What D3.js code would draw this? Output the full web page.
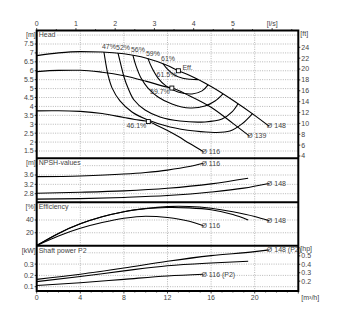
<!DOCTYPE html>
<html><head><meta charset="utf-8">
<script src="https://cdn.jsdelivr.net/npm/d3@7"></script>
<style>body{margin:0;background:#fff}text{font-family:"Liberation Sans",Arial,sans-serif}</style>
</head><body><svg id="c" width="343" height="328"></svg>
<script>
// ---- data ----
const qTicks = [0, 4, 8, 12, 16, 20];            // m³/h
const lsTicks = [0, 1, 2, 3, 4, 5];              // l/s
const headTicks = [1.5, 2, 2.5, 3, 3.5, 4, 4.5, 5, 5.5, 6, 6.5, 7, 7.5];
const headGrid = [1.5, 2, 2.5, 3, 3.5, 4, 4.5, 5, 5.5, 6, 6.5, 7, 7.5, 8];
const ftTicks = [4, 6, 8, 10, 12, 14, 16, 18, 20, 22, 24];
const npshTicks = [2.8, 3.2, 3.6];
const npshGrid = [2.8, 3.2, 3.6, 4.0];
const effTicks = [20, 40];
const effGrid = [20, 40, 60];
const powerTicks = [0.1, 0.2, 0.3];
const powerGrid = [0.1, 0.2, 0.3, 0.4];
const hpTicks = [0.2, 0.3, 0.4, 0.5];

// head curves [Q m³/h, H m]
const head148 = [[0,6.85],[2,7.0],[4,7.07],[6,7.05],[8,6.95],[10,6.72],[12,6.3],[13,6.0],[14,5.75],[16,5.12],[18,4.35],[20,3.5],[21.3,2.9]];
const head139 = [[0,5.95],[2,6.02],[4,6.03],[6,5.92],[8,5.72],[10,5.42],[12,5.08],[12.4,5.03],[14,4.6],[16,3.95],[18,3.05],[19.5,2.35]];
const head116 = [[0,3.75],[2,3.76],[4,3.72],[6,3.6],[8,3.38],[9,3.27],[10,3.18],[10.24,3.15],[11,2.95],[12,2.65],[13,2.31],[14,1.93],[15.3,1.46]];

// iso-efficiency lines [Q, H]
const iso47 = [[6.17,7.05],[6.36,6.33],[6.54,5.77],[6.91,5.04],[7.64,4.31],[8.74,3.69],[10.21,3.24],[12.23,2.85],[14.52,2.62],[16.36,2.54],[17.73,2.62],[18.83,3.02],[19.8,3.6]];
const iso52 = [[7.46,6.99],[7.73,6.32],[8.01,5.65],[8.38,5.03],[8.93,4.36],[9.94,3.8],[11.31,3.41],[13.15,3.18],[15.44,3.13],[17.0,3.29],[17.92,3.69],[18.47,4.15]];
const iso56 = [[8.83,6.86],[9.11,6.27],[9.57,5.59],[10.21,5.03],[11.13,4.53],[12.41,4.14],[14.06,3.91],[15.44,4.02],[16.36,4.3],[17.09,4.7]];
const iso59 = [[10.21,6.68],[10.58,6.15],[11.13,5.59],[11.86,5.15],[12.96,4.81],[14.25,4.7],[15.17,4.87],[15.72,5.21]];
const iso61 = [[11.59,6.39],[11.95,6.12],[12.6,5.78],[13.4,5.58],[14.1,5.52],[14.8,5.5]];
const isoLabels = ["47%", "52%", "56%", "59%", "61%"];

// best efficiency points [Q, H, label]
const bep = [[13.0, 6.0, "61.5%"], [12.4, 5.03, "59.7%"], [10.24, 3.15, "46.1%"]];

// NPSH [Q, m]
const npsh116 = [[0,3.53],[4,3.56],[8,3.64],[10,3.71],[12,3.81],[14,3.96],[15.3,4.1]];
const npsh139 = [[0,2.82],[4,2.86],[8,2.92],[12,3.03],[16,3.22],[19.4,3.46]];
const npsh148 = [[0,2.57],[4,2.59],[8,2.64],[12,2.72],[16,2.87],[19,3.04],[21.3,3.24]];

// efficiency [Q, %]
const eff148 = [[0,0],[2,19],[4,34],[6,45],[8,53],[10,58],[12,61],[13,61.5],[14,61.2],[16,58.5],[18,53],[20,45.5],[21.3,39]];
const eff139 = [[0,0],[2,19],[4,34],[6,45],[8,53],[10,57.8],[12,59.6],[12.4,59.7],[14,59],[16,56],[18,48.5],[19.4,40]];
const eff116 = [[0,0],[2,15],[4,27],[6,36],[8,42.7],[10,46],[12,44],[14,38],[15.3,31]];

// shaft power P2 [Q, kW]
const pow148 = [[0,0.165],[4,0.21],[8,0.265],[12,0.325],[16,0.375],[20,0.41],[21.3,0.425]];
const pow139 = [[0,0.145],[4,0.19],[8,0.24],[12,0.285],[16,0.31],[19.4,0.325]];
const pow116 = [[0,0.11],[4,0.135],[8,0.165],[12,0.195],[15.3,0.21]];

// ---- layout ----
const svg = d3.select("#c");
const L = 36.7, R = 298.3, T = 30.5, B = 291;
const x = d3.scaleLinear().domain([0, 24]).range([L, R]);
const xls = d3.scaleLinear().domain([0, 24 / 3.6]).range([L, R]);

const panels = {
  head:  {top: T,     bottom: 158.3, y: d3.scaleLinear().domain([1.5, 7.5]).range([151, 44])},
  npsh:  {top: 158.3, bottom: 202.3, y: d3.scaleLinear().domain([2.8, 3.6]).range([193.7, 175])},
  eff:   {top: 202.3, bottom: 245.7, y: d3.scaleLinear().domain([0, 40]).range([245.5, 220])},
  power: {top: 245.7, bottom: B,     y: d3.scaleLinear().domain([0.1, 0.3]).range([286.7, 264.1])}
};

const txtCol = "#444", fs = 7;
const g = svg.append("g");

// vertical grid
g.selectAll(".vg").data(qTicks.filter(d => d > 0)).join("line")
  .attr("x1", d => x(d)).attr("x2", d => x(d)).attr("y1", T).attr("y2", B)
  .attr("stroke", "#9a9a9a").attr("stroke-width", 0.7).attr("stroke-dasharray", "1,1.3");

function hgrid(p, vals) {
  g.append("g").selectAll("line").data(vals).join("line")
    .attr("x1", L).attr("x2", R).attr("y1", d => p.y(d)).attr("y2", d => p.y(d))
    .attr("stroke", "#9a9a9a").attr("stroke-width", 0.7).attr("stroke-dasharray", "1,1.3");
}
hgrid(panels.head, headGrid);
hgrid(panels.npsh, npshGrid);
hgrid(panels.eff, effGrid);
hgrid(panels.power, powerGrid);

function leftAxis(p, vals, fmt) {
  const a = g.append("g");
  a.selectAll("text").data(vals).join("text")
    .attr("x", L - 3).attr("y", d => p.y(d)).attr("dy", "0.35em")
    .attr("text-anchor", "end").attr("font-size", fs).attr("fill", txtCol).text(fmt);
  a.selectAll("line").data(vals).join("line")
    .attr("x1", L - 2).attr("x2", L).attr("y1", d => p.y(d)).attr("y2", d => p.y(d))
    .attr("stroke", "#000").attr("stroke-width", 0.8);
}
leftAxis(panels.head, headTicks, d => d);
leftAxis(panels.npsh, npshTicks, d => d.toFixed(1));
leftAxis(panels.eff, effTicks, d => d);
leftAxis(panels.power, powerTicks, d => d.toFixed(1));

function rightAxis(vals, ypos, fmt) {
  const a = g.append("g");
  a.selectAll("text").data(vals).join("text")
    .attr("x", R + 3).attr("y", ypos).attr("dy", "0.35em")
    .attr("font-size", fs).attr("fill", txtCol).text(fmt);
  a.selectAll("line").data(vals).join("line")
    .attr("x1", R).attr("x2", R + 2).attr("y1", ypos).attr("y2", ypos)
    .attr("stroke", "#000").attr("stroke-width", 0.8);
}
rightAxis(ftTicks, d => panels.head.y(d / 3.28084), d => d);
rightAxis(hpTicks, d => panels.power.y(d * 0.7457), d => d.toFixed(1));

// bottom and top axes
g.append("g").selectAll("text").data(qTicks).join("text")
  .attr("x", d => x(d)).attr("y", B + 9).attr("text-anchor", "middle")
  .attr("font-size", fs).attr("fill", txtCol).text(d => d);
g.append("g").selectAll("line").data(d3.range(0, 25, 1)).join("line")
  .attr("x1", d => x(d)).attr("x2", d => x(d)).attr("y1", B).attr("y2", d => B + (d % 4 === 0 ? 2.5 : 1.5))
  .attr("stroke", "#000").attr("stroke-width", 0.7);
g.append("text").attr("x", R + 3).attr("y", B + 9).attr("font-size", fs).attr("fill", txtCol).text("[m³/h]");

g.append("g").selectAll("text").data(lsTicks).join("text")
  .attr("x", d => xls(d)).attr("y", T - 5).attr("text-anchor", "middle")
  .attr("font-size", fs).attr("fill", txtCol).text(d => d);
g.append("g").selectAll("line").data(d3.range(0, 6.6, 0.5)).join("line")
  .attr("x1", d => xls(d)).attr("x2", d => xls(d)).attr("y1", T).attr("y2", d => T - (d % 1 === 0 ? 2.5 : 1.5))
  .attr("stroke", "#000").attr("stroke-width", 0.7);
g.append("text").attr("x", xls(6)).attr("y", T - 5).attr("text-anchor", "middle").attr("font-size", fs).attr("fill", txtCol).text("[l/s]");

// panel titles with a white backing over the grid
function title(p, unit, name) {
  const yy = p.top + 4.5;
  g.append("text").attr("x", L - 1).attr("y", yy).attr("dy", "0.35em").attr("text-anchor", "end")
    .attr("font-size", fs).attr("fill", txtCol).text(unit);
  const t = g.append("text").attr("x", L + 2).attr("y", yy).attr("dy", "0.35em")
    .attr("font-size", fs).attr("fill", txtCol).text(name);
  const bb = t.node().getBBox();
  g.insert("rect", () => t.node()).attr("x", bb.x - 1).attr("y", bb.y).attr("width", bb.width + 2).attr("height", bb.height).attr("fill", "#fff");
}
title(panels.head, "[m]", "Head");
title(panels.npsh, "[m]", "NPSH-values");
title(panels.eff, "[%]", "Efficiency");
title(panels.power, "[kW]", "Shaft power P2");
g.append("text").attr("x", R + 2).attr("y", T + 3).attr("dy", "0.35em").attr("font-size", fs).attr("fill", txtCol).text("[ft]");
g.append("text").attr("x", R + 2).attr("y", panels.power.top + 3).attr("dy", "0.35em").attr("font-size", fs).attr("fill", txtCol).text("[hp]");

// curves
function draw(p, data, curve) {
  const line = d3.line().x(d => x(d[0])).y(d => p.y(d[1])).curve(curve || d3.curveMonotoneX);
  g.append("path").attr("d", line(data)).attr("fill", "none").attr("stroke", "#000").attr("stroke-width", 1.1);
}
function endLabel(p, data, txt) {
  const e = data[data.length - 1];
  g.append("text").attr("x", x(e[0]) - 2).attr("y", p.y(e[1])).attr("dy", "0.35em")
    .attr("font-size", fs).attr("fill", txtCol).text(txt);
}

const iso = [iso47, iso52, iso56, iso59, iso61];
iso.forEach(d => draw(panels.head, d, d3.curveCatmullRom.alpha(0.5)));
[head148, head139, head116].forEach(d => draw(panels.head, d));
endLabel(panels.head, head148, "Ø 148");
endLabel(panels.head, head139, "Ø 139");
endLabel(panels.head, head116, "Ø 116");
iso.forEach((d, i) => {
  g.append("text").attr("x", x(d[0][0]) + 5).attr("y", panels.head.y(d[0][1]) - 3)
    .attr("text-anchor", "middle").attr("font-size", fs).attr("fill", txtCol).text(isoLabels[i]);
});
bep.forEach(d => {
  const cx = x(d[0]), cy = panels.head.y(d[1]);
  g.append("rect").attr("x", cx - 2).attr("y", cy - 2).attr("width", 4).attr("height", 4)
    .attr("fill", "#fff").attr("stroke", "#000").attr("stroke-width", 0.9);
  g.append("text").attr("x", cx - 2).attr("y", cy + 6).attr("text-anchor", "end")
    .attr("font-size", fs).attr("fill", txtCol).text(d[2]);
});
g.append("text").attr("x", x(bep[0][0]) + 4).attr("y", panels.head.y(bep[0][1]) - 1)
  .attr("font-size", fs).attr("fill", txtCol).text("Eff.");

[npsh116, npsh139, npsh148].forEach(d => draw(panels.npsh, d));
endLabel(panels.npsh, npsh116, "Ø 116");
endLabel(panels.npsh, npsh148, "Ø 148");

[eff148, eff139, eff116].forEach(d => draw(panels.eff, d));
endLabel(panels.eff, eff148, "Ø 148");
endLabel(panels.eff, eff116, "Ø 116");

[pow148, pow139, pow116].forEach(d => draw(panels.power, d));
endLabel(panels.power, pow148, "Ø 148 (P2)");
endLabel(panels.power, pow116, "Ø 116 (P2)");

// frame and panel dividers
g.append("rect").attr("x", L).attr("y", T).attr("width", R - L).attr("height", B - T)
  .attr("fill", "none").attr("stroke", "#000").attr("stroke-width", 2);
[panels.npsh.top, panels.eff.top, panels.power.top].forEach(yy =>
  g.append("line").attr("x1", L).attr("x2", R).attr("y1", yy).attr("y2", yy).attr("stroke", "#000").attr("stroke-width", 2));
</script></body></html>
